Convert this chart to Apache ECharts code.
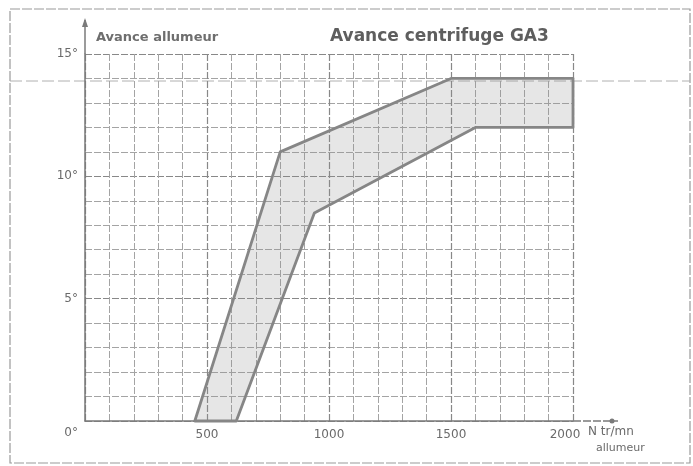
<!DOCTYPE html>
<html>
<head>
<meta charset="utf-8">
<script src="https://cdn.jsdelivr.net/npm/echarts@6/dist/echarts.min.js"></script>
<style>
  html, body { margin: 0; padding: 0; background: #fff; }
  #chart { width: 693px; height: 466px; }
</style>
</head>
<body>
<div id="chart"></div>
<script>
// courbe haute (avance maxi) et courbe basse (avance mini)
const rpmHaut = [450, 800, 1500, 2000];
const degHaut = [0, 11, 14, 14];
const rpmBas = [620, 940, 1600, 2000];
const degBas = [0, 8.5, 12, 12];

const xTicks = [500, 1000, 1500, 2000];
const yTicks = [0, 5, 10, 15];

const chart = echarts.init(document.getElementById('chart'));

const gris = '#888';
const texte = '#6a6a6a';

// bande entre les deux courbes
function renderBande(params, api) {
  const pts = [];
  for (let i = 0; i < rpmHaut.length; i++) {
    pts.push(api.coord([rpmHaut[i], degHaut[i]]));
  }
  for (let i = rpmBas.length - 1; i >= 0; i--) {
    pts.push(api.coord([rpmBas[i], degBas[i]]));
  }
  return {
    type: 'polygon',
    shape: { points: pts },
    style: {
      fill: 'rgba(140,140,140,0.22)',
      stroke: '#868686',
      lineWidth: 2.8,
      lineJoin: 'round'
    }
  };
}

const option = {
  backgroundColor: '#fff',
  animation: false,
  title: [{
    text: 'Avance centrifuge GA3',
    left: 325,
    top: 23,
    textStyle: { fontFamily: 'DejaVu Sans', fontSize: 17, fontWeight: 'bold', color: '#5e5e5e' }
  }, {
    text: 'Avance allumeur',
    left: 91,
    top: 26,
    textStyle: { fontFamily: 'DejaVu Sans', fontSize: 13, fontWeight: 'bold', color: '#6e6e6e' }
  }],
  grid: { left: 85, right: 120, top: 54, bottom: 45 },
  xAxis: {
    type: 'value',
    min: 0,
    max: 2000,
    interval: 500,
    axisLine: { show: true, lineStyle: { color: '#7a7a7a', width: 1.5 } },
    axisTick: { show: false },
    axisLabel: {
      margin: 8,
      color: texte,
      fontFamily: 'DejaVu Sans',
      fontSize: 12,
      formatter: v => (xTicks.indexOf(v) < 0 ? '' : v === 2000 ? '{r|2000}' : String(v)),
      rich: { r: { color: texte, fontFamily: 'DejaVu Sans', fontSize: 12, padding: [0, 16, 0, 0] } }
    },
    splitLine: { show: true, lineStyle: { color: gris, width: 1.2, type: [7, 2] } },
    minorTick: { show: false, splitNumber: 5 },
    minorSplitLine: { show: true, lineStyle: { color: '#a4a4a4', width: 1, type: [7, 2] } }
  },
  yAxis: {
    type: 'value',
    min: 0,
    max: 15,
    interval: 5,
    axisLine: { show: true, lineStyle: { color: '#7a7a7a', width: 1.5 } },
    axisTick: { show: false },
    axisLabel: {
      margin: 7,
      color: texte,
      fontFamily: 'DejaVu Sans',
      fontSize: 12,
      formatter: v => (yTicks.indexOf(v) < 0 ? '' : v === 0 ? '{z|0°}' : v + '°'),
      rich: { z: { color: texte, fontFamily: 'DejaVu Sans', fontSize: 12, padding: [24, 0, 0, 0] } }
    },
    splitLine: { show: true, lineStyle: { color: gris, width: 1.2, type: [7, 2] } },
    minorTick: { show: false, splitNumber: 5 },
    minorSplitLine: { show: true, lineStyle: { color: '#a4a4a4', width: 1, type: [7, 2] } }
  },
  graphic: [
    // cadre
    { type: 'rect', shape: { x: 10, y: 9, width: 680, height: 454 }, style: { fill: null, stroke: '#9a9a9a', lineWidth: 1.2, lineDash: [10, 2] }, silent: true },
    // prolongement des axes
    { type: 'line', shape: { x1: 85, y1: 54, x2: 85, y2: 20 }, style: { stroke: '#7a7a7a', lineWidth: 1.5 } },
    { type: 'polygon', shape: { points: [[82, 27], [85, 18], [88, 27]] }, style: { fill: '#7a7a7a' } },
    { type: 'line', shape: { x1: 573, y1: 421, x2: 618, y2: 421 }, style: { stroke: '#7a7a7a', lineWidth: 1.5, lineDash: [8, 2] } },
    { type: 'circle', shape: { cx: 612, cy: 421, r: 2.5 }, style: { fill: '#7a7a7a' } },
    // trait du pliage
    { type: 'line', shape: { x1: 10, y1: 81, x2: 690, y2: 81 }, style: { stroke: '#b0b0b0', lineWidth: 1, lineDash: [12, 4] }, silent: true },
    // unité
    { type: 'text', left: 588, top: 426, style: { text: 'N tr/mn', fill: texte, font: '12px "DejaVu Sans"' } },
    { type: 'text', left: 596, top: 443, style: { text: 'allumeur', fill: texte, font: '11px "DejaVu Sans"' } }
  ],
  series: [{
    type: 'custom',
    renderItem: renderBande,
    data: [[0, 0]],
    silent: true,
    z: 3
  }]
};

chart.setOption(option);
</script>
</body>
</html>
